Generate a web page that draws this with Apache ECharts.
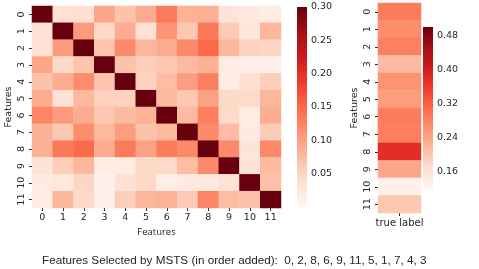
<!DOCTYPE html>
<html>
<head>
<meta charset="utf-8">
<script src="https://cdn.jsdelivr.net/npm/echarts@6/dist/echarts.min.js"></script>
<style>html,body{margin:0;padding:0;background:#fff}#c{width:479px;height:269px}</style>
</head>
<body>
<div id="c"></div>
<script>
const features = ['0','1','2','3','4','5','6','7','8','9','10','11'];
const corrMatrix = [
  [1.000,0.035,0.037,0.095,0.068,0.090,0.135,0.083,0.086,0.030,0.022,0.015],
  [0.032,1.000,0.105,0.045,0.088,0.035,0.110,0.063,0.137,0.060,0.027,0.080],
  [0.036,0.105,1.000,0.065,0.120,0.080,0.090,0.120,0.150,0.078,0.052,0.048],
  [0.095,0.045,0.065,1.000,0.068,0.055,0.062,0.075,0.085,0.017,0.010,0.010],
  [0.067,0.089,0.118,0.065,1.000,0.052,0.073,0.102,0.130,0.015,0.037,0.056],
  [0.089,0.033,0.077,0.053,0.053,1.000,0.077,0.061,0.098,0.045,0.044,0.080],
  [0.125,0.105,0.088,0.063,0.075,0.082,1.000,0.075,0.130,0.044,0.016,0.087],
  [0.084,0.062,0.117,0.077,0.102,0.068,0.077,1.000,0.120,0.073,0.020,0.058],
  [0.085,0.137,0.150,0.088,0.135,0.098,0.132,0.120,1.000,0.120,0.030,0.122],
  [0.030,0.056,0.078,0.016,0.015,0.045,0.044,0.073,0.120,1.000,0.030,0.075],
  [0.020,0.023,0.047,0.008,0.036,0.045,0.012,0.020,0.020,0.034,1.000,0.070],
  [0.015,0.080,0.045,0.010,0.056,0.080,0.083,0.060,0.125,0.073,0.070,1.000]
];
const trueLabelCorr = [0.290,0.268,0.283,0.215,0.260,0.250,0.287,0.285,0.375,0.238,0.130,0.200];
const trueLabelCats = ['true label'];
const corrTicks = [0.05,0.10,0.15,0.20,0.25,0.30];
const labelTicks = [0.16,0.24,0.32,0.40,0.48];
const corrRange = [0, 0.30];
const labelRange = [0.12, 0.50];
const selectedOrder = [0,2,8,6,9,11,5,1,7,4,3];

const reds = ['#fff5f0','#fee0d2','#fcbba1','#fc9272','#fb6a4a','#ef3b2c','#cb181d','#a50f15','#67000d'];
const txt = '#262626';
const font = 'DejaVu Sans';

const heatData = [];
corrMatrix.forEach((row, i) => row.forEach((v, j) => heatData.push([j, i, v])));
const labelData = trueLabelCorr.map((v, i) => [0, i, v]);

function gradient() {
  const stops = reds.slice().reverse().map((c, i) => ({offset: i / (reds.length - 1), color: c}));
  return new echarts.graphic.LinearGradient(0, 0, 0, 1, stops);
}
function barRender(params, api) {
  const a = api.coord([0, api.value(1)]);
  const b = api.coord([1, api.value(2)]);
  return {type: 'rect', shape: {x: a[0], y: b[1], width: b[0] - a[0], height: a[1] - b[1]},
          style: {fill: gradient()}};
}
const tickStyle = {show: true, length: 3, lineStyle: {color: txt, width: 1}};
const labStyle = {color: txt, fontSize: 9.5, fontFamily: font};
const g = (l, t, w, h) => ({left: l, top: t, width: w, height: h, containLabel: false, outerBoundsMode: 'none'});

const chart = echarts.init(document.getElementById('c'), null, {renderer: 'canvas'});
chart.setOption({
  animation: false,
  backgroundColor: '#fff',
  title: {
    text: 'Features Selected by MSTS (in order added):  ' + selectedOrder.join(', '),
    left: 37, top: 250,
    textStyle: {fontSize: 11.7, fontWeight: 'normal', color: txt, fontFamily: 'Liberation Sans'}
  },
  grid: [g(32, 6, 249, 202), g(378, 3, 43, 210), g(297, 7, 10, 200), g(423, 27, 10, 162)],
  xAxis: [
    {gridIndex: 0, type: 'category', data: features, axisLine: {show: false}, axisTick: Object.assign({alignWithLabel: true}, tickStyle),
     axisLabel: Object.assign({margin: 5}, labStyle), name: 'Features', nameLocation: 'middle', nameGap: 19, nameMoveOverlap: false,
     nameTextStyle: {color: txt, fontSize: 9.5, fontFamily: 'Open Sans'}, splitLine: {show: false}},
    {gridIndex: 1, type: 'category', data: trueLabelCats, axisLine: {show: false}, axisTick: Object.assign({alignWithLabel: true}, tickStyle),
     axisLabel: Object.assign({margin: 5}, labStyle, {fontSize: 10})},
    {gridIndex: 2, type: 'value', min: 0, max: 1, show: false},
    {gridIndex: 3, type: 'value', min: 0, max: 1, show: false}
  ],
  yAxis: [
    {gridIndex: 0, type: 'category', data: features, inverse: true, axisLine: {show: false}, axisTick: Object.assign({alignWithLabel: true}, tickStyle),
     axisLabel: Object.assign({rotate: 90, margin: 5}, labStyle), name: 'Features', nameLocation: 'middle', nameGap: 18, nameRotate: 90,
     nameMoveOverlap: false, nameTextStyle: {color: txt, fontSize: 9.5, fontFamily: font}},
    {gridIndex: 1, type: 'category', data: features, inverse: true, axisLine: {show: false}, axisTick: Object.assign({alignWithLabel: true}, tickStyle),
     axisLabel: Object.assign({rotate: 90, margin: 5}, labStyle), name: 'Features', nameLocation: 'middle', nameGap: 18, nameRotate: 90,
     nameMoveOverlap: false, nameTextStyle: {color: txt, fontSize: 9.5, fontFamily: font}},
    {gridIndex: 2, type: 'value', min: corrRange[0], max: corrRange[1], position: 'right', axisLine: {show: false}, splitLine: {show: false},
     axisTick: Object.assign({customValues: corrTicks}, tickStyle),
     axisLabel: Object.assign({customValues: corrTicks, margin: 4, formatter: v => v.toFixed(2)}, labStyle)},
    {gridIndex: 3, type: 'value', min: labelRange[0], max: labelRange[1], position: 'right', axisLine: {show: false}, splitLine: {show: false},
     axisTick: Object.assign({customValues: labelTicks}, tickStyle),
     axisLabel: Object.assign({customValues: labelTicks, margin: 4, formatter: v => v.toFixed(2)}, labStyle)}
  ],
  visualMap: [
    {type: 'continuous', seriesIndex: 0, min: corrRange[0], max: corrRange[1], show: false, inRange: {color: reds}},
    {type: 'continuous', seriesIndex: 1, min: labelRange[0], max: labelRange[1], show: false, inRange: {color: reds}}
  ],
  series: [
    {type: 'heatmap', xAxisIndex: 0, yAxisIndex: 0, data: heatData, itemStyle: {borderWidth: 0}},
    {type: 'heatmap', xAxisIndex: 1, yAxisIndex: 1, data: labelData, itemStyle: {borderWidth: 0}},
    {type: 'custom', xAxisIndex: 2, yAxisIndex: 2, data: [[0, corrRange[0], corrRange[1]]], renderItem: barRender, silent: true},
    {type: 'custom', xAxisIndex: 3, yAxisIndex: 3, data: [[0, labelRange[0], labelRange[1]]], renderItem: barRender, silent: true}
  ]
});
</script>
</body>
</html>
